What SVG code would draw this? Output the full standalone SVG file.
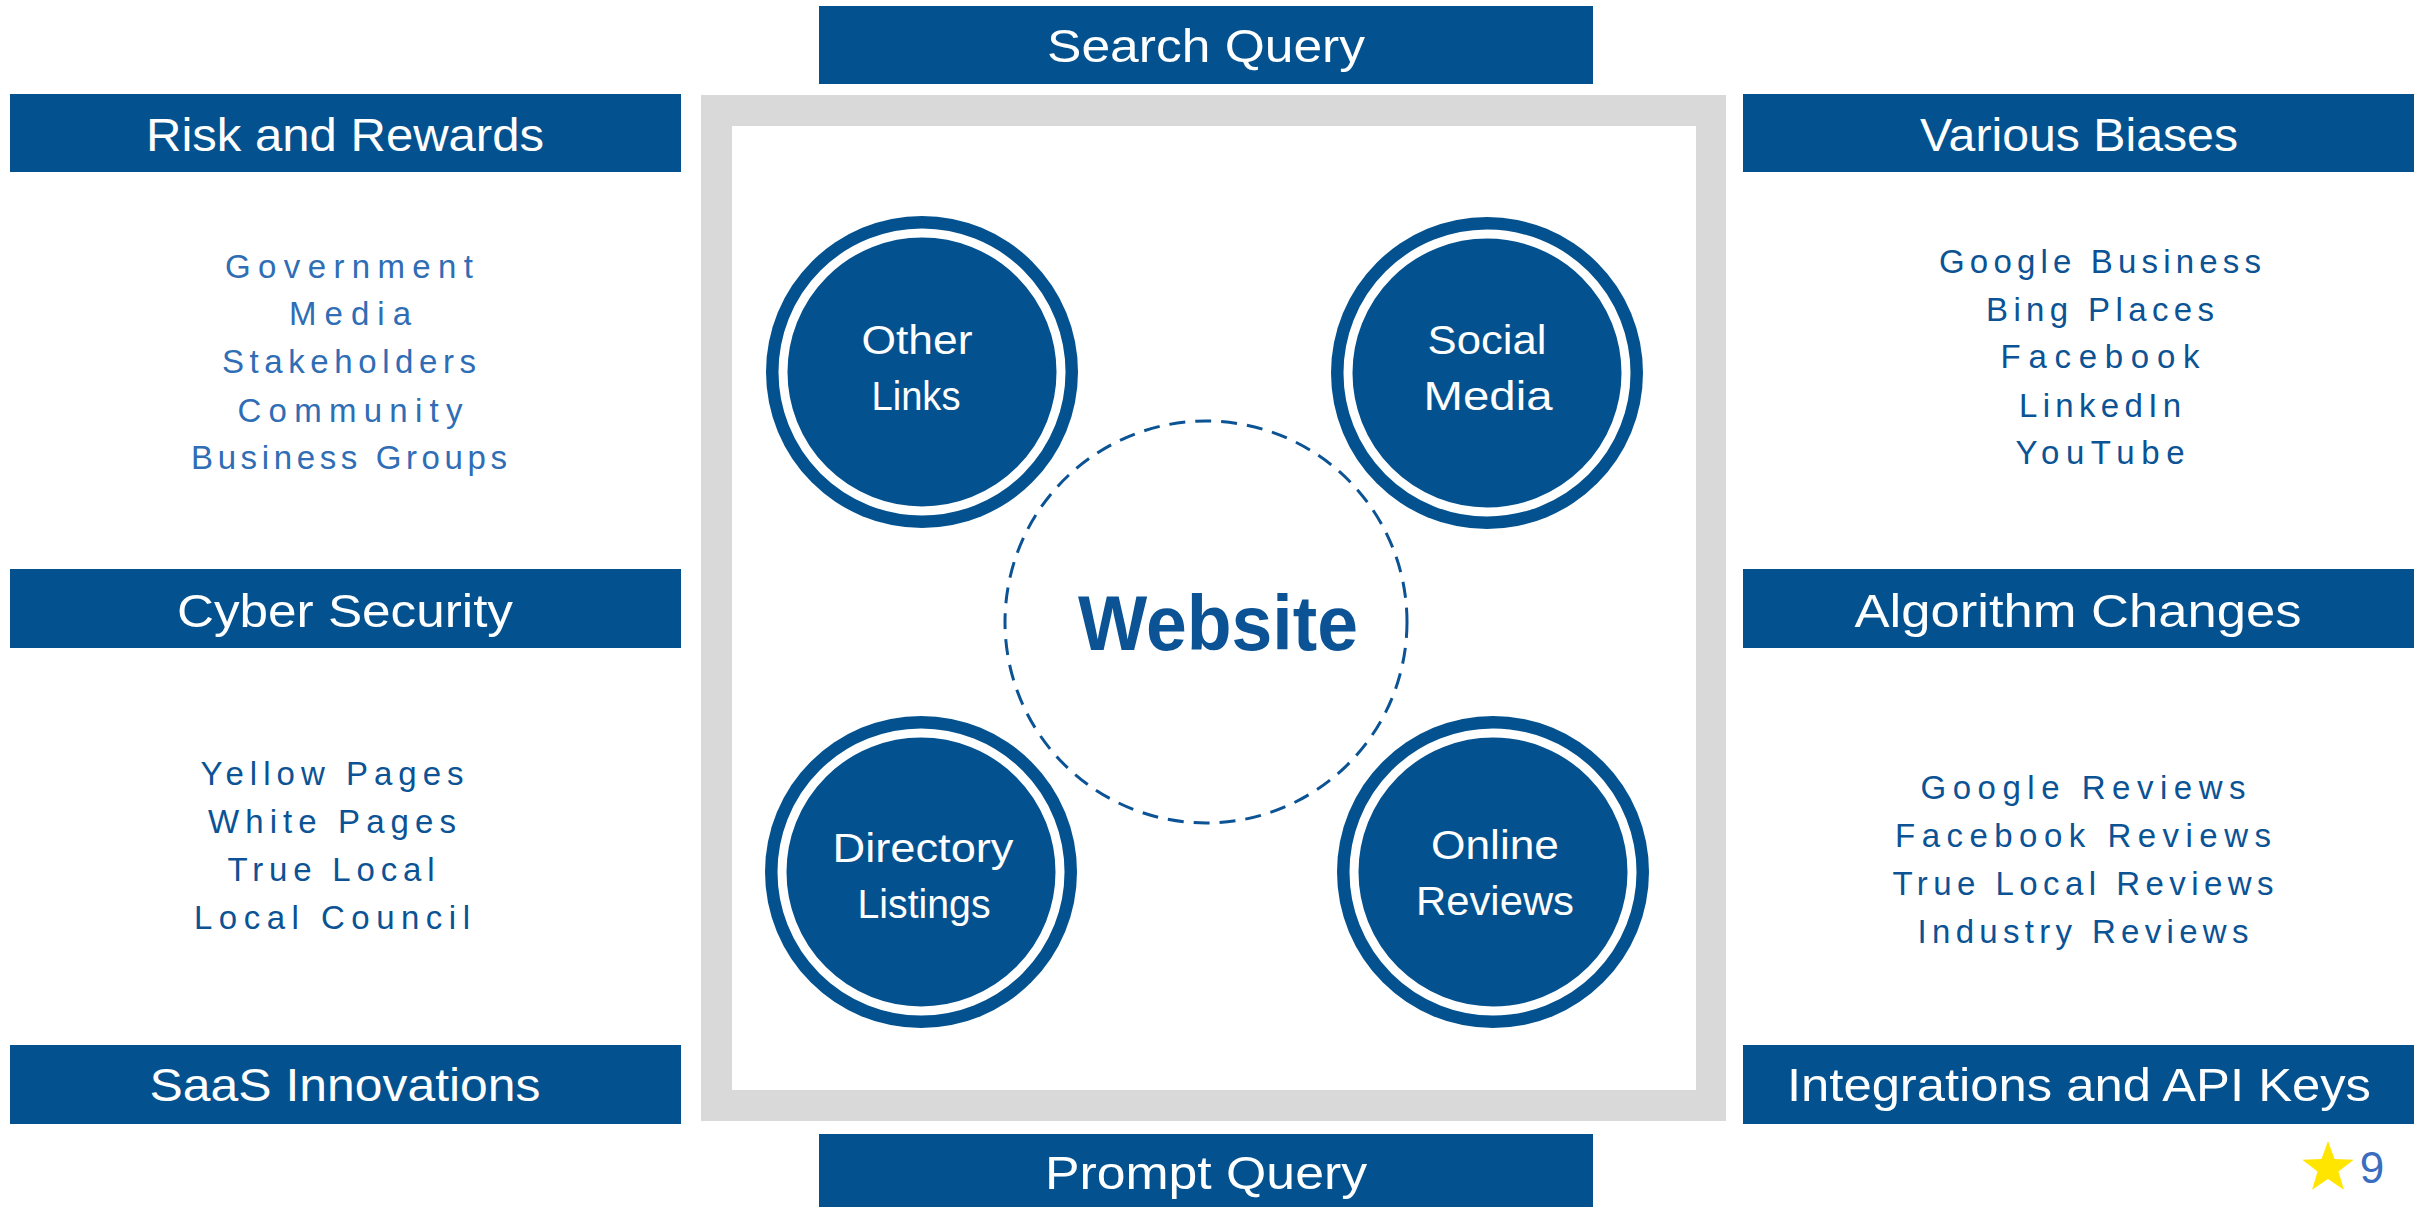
<svg xmlns="http://www.w3.org/2000/svg" width="2427" height="1207" viewBox="0 0 2427 1207">
<style>
.bar{fill:#03528F}
.bt{fill:#FFFFFF;font-family:"Liberation Sans",Arial,sans-serif;font-size:46px;text-anchor:middle}
.ct{fill:#FFFFFF;font-family:"Liberation Sans",Arial,sans-serif;font-size:40px;text-anchor:middle}
.li{font-family:"Liberation Sans",Arial,sans-serif;font-size:33px;text-anchor:middle;fill:#0B5394}
.li2{fill:#2F6DB5}
.outer{fill:#03528F}
.ring{fill:none;stroke:#FFFFFF;stroke-width:9}
</style>
<rect width="2427" height="1207" fill="#FFFFFF"/>
<g id="frame">
<rect x="701" y="95" width="1025" height="1026" fill="#D9D9D9"/>
<rect x="732" y="126" width="964" height="964" fill="#FFFFFF"/>
</g>
<g id="connectors">
<circle cx="1206" cy="622" r="201" fill="none" stroke="#0B5394" stroke-width="3" stroke-dasharray="16 10"/>
</g>
<g id="website">
<text x="1218" y="650" font-family="'Liberation Sans',Arial,sans-serif" font-size="78" font-weight="bold" fill="#0B5394" text-anchor="middle" textLength="280" lengthAdjust="spacingAndGlyphs">Website</text>
</g>
<g id="search-query">
<rect class="bar" x="819" y="6" width="774" height="78"/>
<text class="bt" x="1206" y="62" textLength="318" lengthAdjust="spacingAndGlyphs">Search Query</text>
</g>
<g id="prompt-query">
<rect class="bar" x="819" y="1134" width="774" height="73"/>
<text class="bt" x="1206" y="1189" textLength="322" lengthAdjust="spacingAndGlyphs">Prompt Query</text>
</g>
<g id="risk-and-rewards">
<rect class="bar" x="10" y="94" width="671" height="78"/>
<text class="bt" x="345" y="151" textLength="398" lengthAdjust="spacingAndGlyphs">Risk and Rewards</text>
</g>
<g id="cyber-security">
<rect class="bar" x="10" y="569" width="671" height="79"/>
<text class="bt" x="345" y="627" textLength="336" lengthAdjust="spacingAndGlyphs">Cyber Security</text>
</g>
<g id="saas-innovations">
<rect class="bar" x="10" y="1045" width="671" height="79"/>
<text class="bt" x="345" y="1101" textLength="391" lengthAdjust="spacingAndGlyphs">SaaS Innovations</text>
</g>
<g id="various-biases">
<rect class="bar" x="1743" y="94" width="671" height="78"/>
<text class="bt" x="2079" y="151" textLength="318" lengthAdjust="spacingAndGlyphs">Various Biases</text>
</g>
<g id="algorithm-changes">
<rect class="bar" x="1743" y="569" width="671" height="79"/>
<text class="bt" x="2078" y="627" textLength="447" lengthAdjust="spacingAndGlyphs">Algorithm Changes</text>
</g>
<g id="integrations">
<rect class="bar" x="1743" y="1045" width="671" height="79"/>
<text class="bt" x="2079" y="1101" textLength="584" lengthAdjust="spacingAndGlyphs">Integrations and API Keys</text>
</g>
<g id="list-risk">
<text class="li li2" x="349" y="278" textLength="248" lengthAdjust="spacing">Government</text>
<text class="li li2" x="350" y="325" textLength="122" lengthAdjust="spacing">Media</text>
<text class="li li2" x="349" y="373" textLength="254" lengthAdjust="spacing">Stakeholders</text>
<text class="li li2" x="350" y="422" textLength="225" lengthAdjust="spacing">Community</text>
<text class="li li2" x="349" y="469" textLength="316" lengthAdjust="spacing">Business Groups</text>
</g>
<g id="list-cyber">
<text class="li" x="332" y="785" textLength="263" lengthAdjust="spacing">Yellow Pages</text>
<text class="li" x="332" y="833" textLength="248" lengthAdjust="spacing">White Pages</text>
<text class="li" x="331" y="881" textLength="207" lengthAdjust="spacing">True Local</text>
<text class="li" x="332" y="929" textLength="276" lengthAdjust="spacing">Local Council</text>
</g>
<g id="list-biases">
<text class="li" x="2100" y="273" textLength="322" lengthAdjust="spacing">Google Business</text>
<text class="li" x="2100" y="321" textLength="228" lengthAdjust="spacing">Bing Places</text>
<text class="li" x="2100" y="368" textLength="199" lengthAdjust="spacing">Facebook</text>
<text class="li" x="2100" y="417" textLength="162" lengthAdjust="spacing">LinkedIn</text>
<text class="li" x="2100" y="464" textLength="169" lengthAdjust="spacing">YouTube</text>
</g>
<g id="list-algorithm">
<text class="li" x="2083" y="799" textLength="325" lengthAdjust="spacing">Google Reviews</text>
<text class="li" x="2083" y="847" textLength="376" lengthAdjust="spacing">Facebook Reviews</text>
<text class="li" x="2083" y="895" textLength="381" lengthAdjust="spacing">True Local Reviews</text>
<text class="li" x="2083" y="943" textLength="331" lengthAdjust="spacing">Industry Reviews</text>
</g>
<g id="other-links">
<circle class="outer" cx="922" cy="372" r="156"/>
<circle class="ring" cx="922" cy="372" r="139"/>
<text class="ct" x="917" y="354" textLength="111" lengthAdjust="spacingAndGlyphs">Other</text>
<text class="ct" x="916" y="410" textLength="89" lengthAdjust="spacingAndGlyphs">Links</text>
</g>
<g id="social-media">
<circle class="outer" cx="1487" cy="373" r="156"/>
<circle class="ring" cx="1487" cy="373" r="139"/>
<text class="ct" x="1487" y="354" textLength="119" lengthAdjust="spacingAndGlyphs">Social</text>
<text class="ct" x="1488" y="410" textLength="129" lengthAdjust="spacingAndGlyphs">Media</text>
</g>
<g id="directory-listings">
<circle class="outer" cx="921" cy="872" r="156"/>
<circle class="ring" cx="921" cy="872" r="139"/>
<text class="ct" x="923" y="862" textLength="181" lengthAdjust="spacingAndGlyphs">Directory</text>
<text class="ct" x="924" y="918" textLength="133" lengthAdjust="spacingAndGlyphs">Listings</text>
</g>
<g id="online-reviews">
<circle class="outer" cx="1493" cy="872" r="156"/>
<circle class="ring" cx="1493" cy="872" r="139"/>
<text class="ct" x="1495" y="859" textLength="128" lengthAdjust="spacingAndGlyphs">Online</text>
<text class="ct" x="1495" y="915" textLength="158" lengthAdjust="spacingAndGlyphs">Reviews</text>
</g>
<g id="page-number">
<polygon points="2328,1141 2334.5,1159.1 2353.7,1159.7 2338.5,1171.4 2343.9,1189.8 2328,1179 2312.1,1189.8 2317.5,1171.4 2302.3,1159.7 2321.5,1159.1" fill="#FFE500"/>
<text x="2372" y="1183" font-family="'Liberation Sans',Arial,sans-serif" font-size="44" fill="#3A6DC0" text-anchor="middle">9</text>
</g>
</svg>
